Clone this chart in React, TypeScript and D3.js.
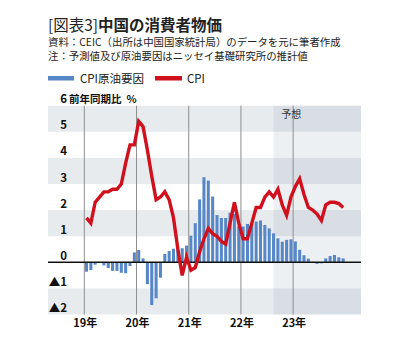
import React from 'react';
import * as d3 from 'd3';

// 2019-01 .. 2023-12, one value per month
const years = ['19年', '20年', '21年', '22年', '23年'];

const cpi = [
  1.7, 1.5, 2.3, 2.5, 2.7, 2.7, 2.8, 2.8, 3.0, 3.8, 4.5, 4.5,
  5.4, 5.2, 4.3, 3.3, 2.4, 2.5, 2.7, 2.4, 1.7, 0.5, -0.5, 0.2,
  -0.3, -0.2, 0.4, 0.9, 1.3, 1.1, 1.0, 0.8, 0.7, 1.5, 2.3, 1.5,
  0.9, 0.9, 1.5, 2.1, 2.1, 2.5, 2.7, 2.5, 2.8, 2.2, 1.8, 2.5,
  2.9, 3.2, 2.6, 2.1, 2.0, 1.85, 1.6, 2.2, 2.3, 2.3, 2.25, 2.1
];

const oilFactor = [
  -0.36, -0.3, -0.09, 0, -0.12, -0.22, -0.33, -0.33, -0.4, -0.42, -0.14, 0.38,
  0.47, 0.15, -0.84, -1.64, -1.38, -0.59, 0.32, 0.43, 0.52, 0.5, 0.54, 0.64,
  1.02, 1.5, 2.41, 3.26, 3.13, 2.52, 1.81, 1.7, 1.7, 1.9, 1.85, 1.39,
  1.37, 1.47, 1.49, 1.56, 1.6, 1.43, 1.3, 1.11, 0.92, 0.79, 0.86, 0.88,
  0.8, 0.48, 0.27, 0.14, 0.02, -0.06, -0.04, 0.15, 0.24, 0.28, 0.19, 0.15
];

const yTicks = [6, 5, 4, 3, 2, 1, 0, -1, -2];
const grayBands = [[5, 6], [3, 4], [1, 2], [-2, -1]];
const forecastStart = 43.5; // last actual month (Aug 2022), centre

const font = '"Noto Sans CJK JP", "Noto Sans", sans-serif';
const blue = '#5787c6';
const red = '#d0111d';

export default function App() {
  const left = 48, right = 361, top = 105.7, bottom = 314.5;

  const x = d3.scaleLinear().domain([-8.35, 63.6]).range([left, right]);
  const y = d3.scaleLinear().domain([-2, 6]).range([bottom, top]);
  const step = x(1) - x(0);
  const barW = step * 0.7;

  const line = d3.line<number>()
    .x((d, i) => x(i + 0.5))
    .y(d => y(d));

  const label = (v: number) => (v < 0 ? '▲' + Math.abs(v) : String(v));

  return (
    <svg width={409} height={352} style={{ position: 'absolute', left: 0, top: 0, background: '#fff' }}
         fontFamily={font}>
      {/* title */}
      <text x={48} y={31} fontSize={15.5} fill="#222">
        <tspan fontWeight={400}>[図表3]</tspan>
        <tspan fontWeight={700}>中国の消費者物価</tspan>
      </text>
      <text x={48} y={46} fontSize={10.4} fill="#222">資料：CEIC（出所は中国国家統計局）のデータを元に筆者作成</text>
      <text x={48} y={59.5} fontSize={10.4} fill="#222">注：予測値及び原油要因はニッセイ基礎研究所の推計値</text>

      {/* legend */}
      <rect x={48} y={76} width={26} height={4.5} fill={blue} />
      <text x={80} y={82.5} fontSize={11.5} fill="#222">CPI原油要因</text>
      <rect x={155} y={76} width={27} height={4.5} fill={red} />
      <text x={187} y={82.5} fontSize={11.5} fill="#222">CPI</text>

      {/* background bands */}
      {grayBands.map(([a, b]) =>
        <rect key={a} x={left} y={y(b)} width={right - left} height={y(a) - y(b)} fill="#e8ebee" />
      )}
      <rect x={x(forecastStart)} y={top} width={right - x(forecastStart)} height={bottom - top}
            fill="#4a6a8a" fillOpacity={0.1} />

      {/* year lines */}
      {years.map((t, i) =>
        <line key={t} x1={x(i * 12)} x2={x(i * 12)} y1={top} y2={bottom} stroke="#8f8f8f" strokeWidth={1} />
      )}

      {/* bars */}
      {oilFactor.map((v, i) =>
        <rect key={i} x={x(i) + (step - barW) / 2} width={barW}
              y={y(Math.max(0, v))} height={Math.abs(y(v) - y(0))} fill={blue} />
      )}

      <line x1={left} x2={right} y1={y(0)} y2={y(0)} stroke="#111" strokeWidth={1.5} />

      <path d={line(cpi) || ''} fill="none" stroke={red} strokeWidth={3.4} strokeLinejoin="miter" />

      {/* y labels */}
      {yTicks.map(v =>
        <text key={v} x={67} y={y(v) - 2.5} fontSize={11.5} fontWeight={700} textAnchor="end" fill="#111">
          {label(v)}
        </text>
      )}
      <text x={67} y={y(6) - 2.5} fontSize={10.5} fontWeight={700} fill="#111">
        <tspan dx={2}>前年同期比</tspan><tspan dx={5}>%</tspan>
      </text>

      <text x={x(48) - 2} y={y(5.7) + 4} fontSize={10} textAnchor="middle" fill="#333">予想</text>

      {/* x labels */}
      {years.map((t, i) =>
        <text key={t} x={x(i * 12) + 1} y={327} fontSize={11} fontWeight={700} textAnchor="middle" fill="#111">{t}</text>
      )}
    </svg>
  );
}
